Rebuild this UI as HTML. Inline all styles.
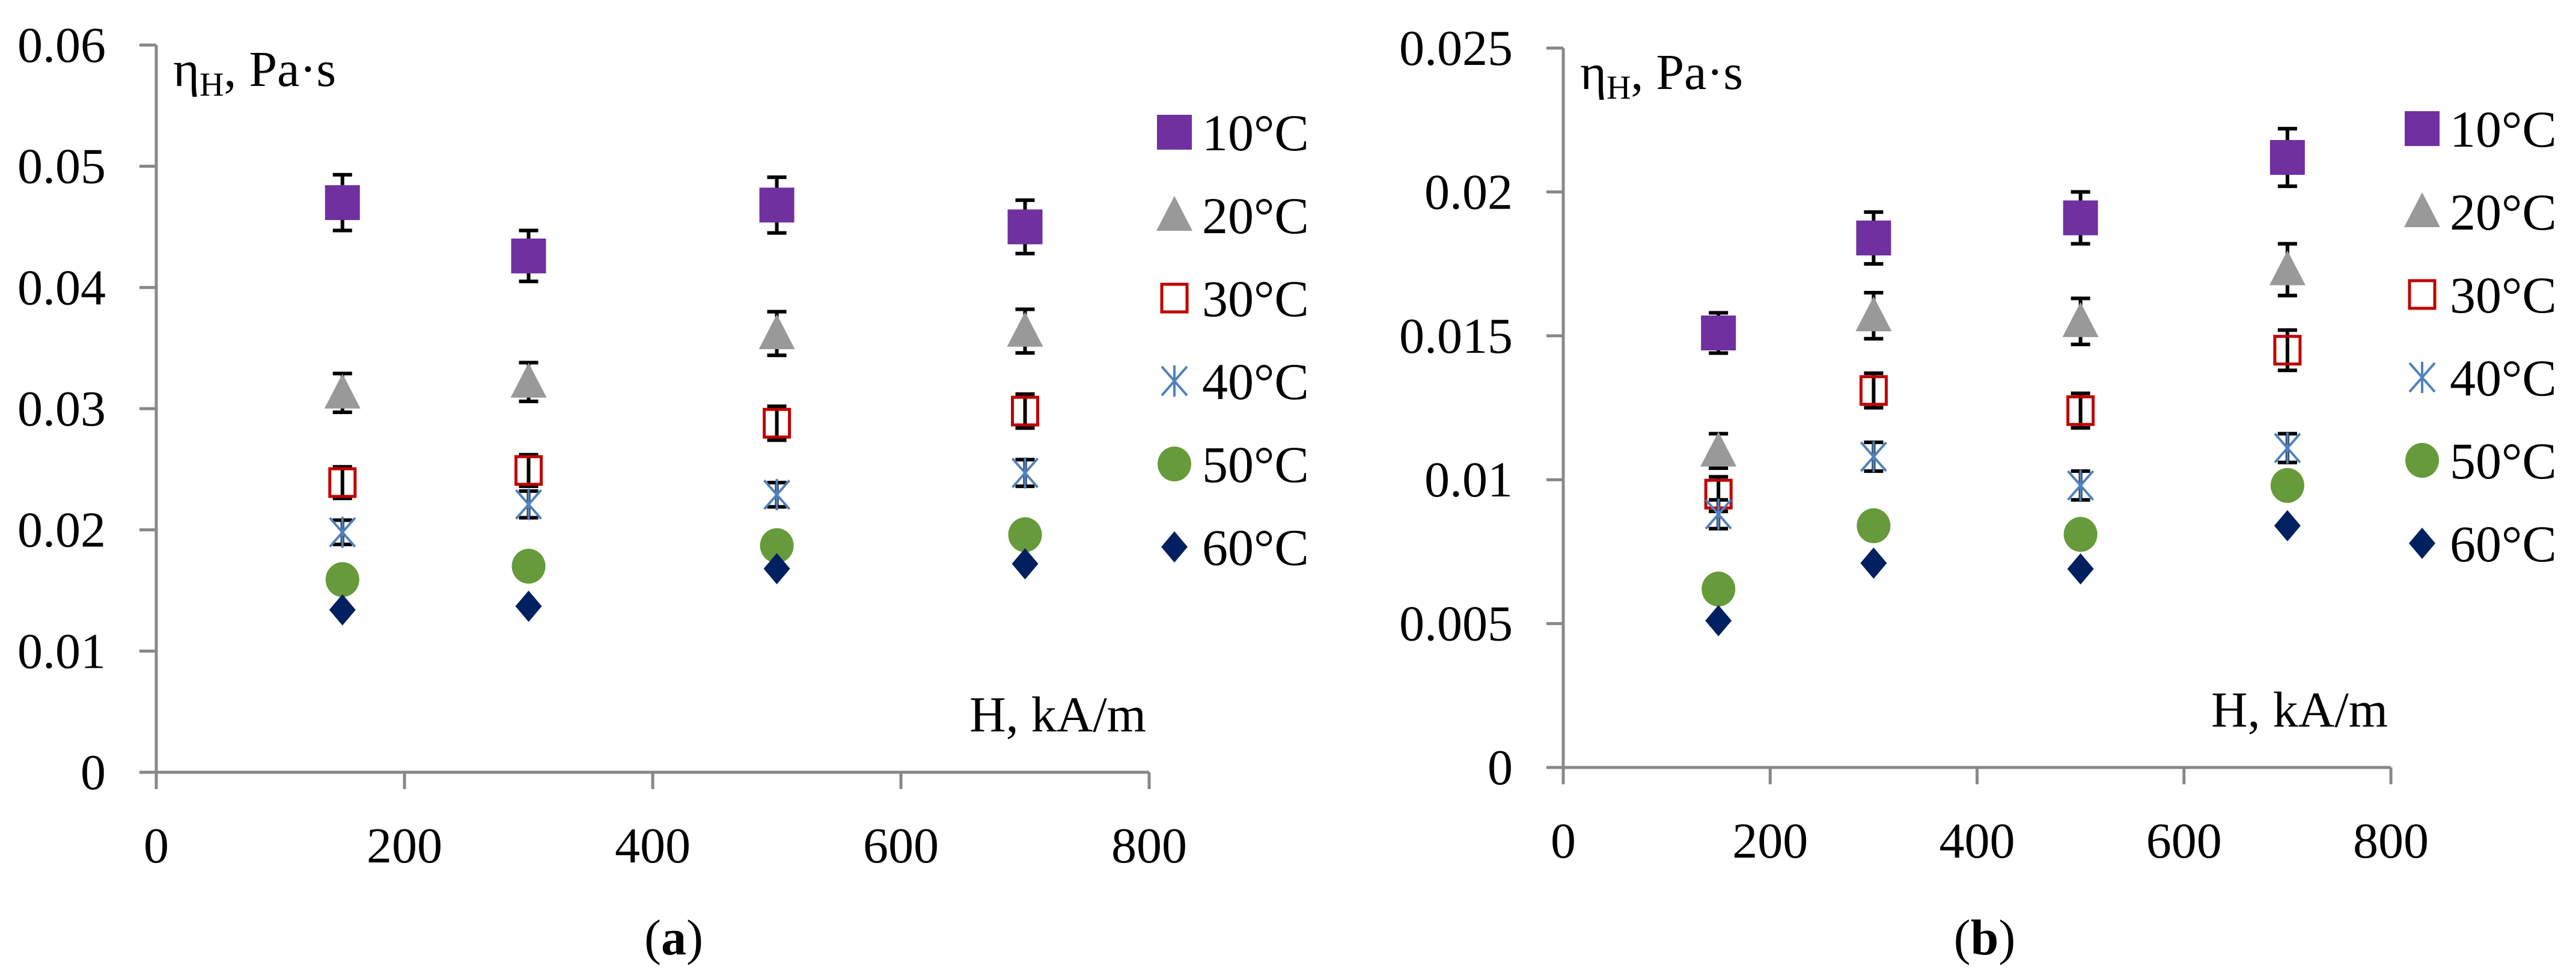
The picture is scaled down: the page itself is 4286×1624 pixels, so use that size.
<!DOCTYPE html>
<html><head><meta charset="utf-8"><style>
html,body{margin:0;padding:0;background:#fff;}
svg{display:block;}
text{font-family:"Liberation Serif",serif;fill:#000;}
</style></head><body>
<svg id="chart" width="4286" height="1624" viewBox="0 0 4286 1624" xmlns="http://www.w3.org/2000/svg"></svg>
<script>
const xValues = [150, 300, 500, 700];
const seriesLabels = ["10°C","20°C","30°C","40°C","50°C","60°C"];
const xTicks = [0, 200, 400, 600, 800];
const yTicksA = [0, 0.01, 0.02, 0.03, 0.04, 0.05, 0.06];
const yTickLabelsA = ["0","0.01","0.02","0.03","0.04","0.05","0.06"];
const yTicksB = [0, 0.005, 0.01, 0.015, 0.02, 0.025];
const yTickLabelsB = ["0","0.005","0.01","0.015","0.02","0.025"];
const a10 = [0.047, 0.0426, 0.0468, 0.045];
const a20 = [0.0313, 0.0322, 0.0362, 0.0364];
const a30 = [0.0239, 0.0249, 0.0288, 0.0298];
const a40 = [0.0198, 0.0221, 0.0229, 0.0247];
const a50 = [0.0159, 0.0170, 0.0187, 0.0196];
const a60 = [0.0134, 0.0137, 0.0168, 0.0172];
const aErr10 = [0.0023, 0.0021, 0.0023, 0.0022];
const aErr20 = [0.0016, 0.0016, 0.0018, 0.0018];
const aErr30 = [0.0013, 0.0013, 0.0014, 0.0014];
const aErr40 = [0.0010, 0.0011, 0.0010, 0.0011];
const b10 = [0.0151, 0.0184, 0.0191, 0.0212];
const b20 = [0.0110, 0.0157, 0.0155, 0.0173];
const b30 = [0.0095, 0.0131, 0.0124, 0.0145];
const b40 = [0.0088, 0.0108, 0.0098, 0.0111];
const b50 = [0.0062, 0.0084, 0.0081, 0.0098];
const b60 = [0.0051, 0.0071, 0.0069, 0.0084];
const bErr10 = [0.0007, 0.0009, 0.0009, 0.0010];
const bErr20 = [0.0006, 0.0008, 0.0008, 0.0009];
const bErr30 = [0.0006, 0.0006, 0.0006, 0.0007];
const bErr40 = [0.0005, 0.0005, 0.0005, 0.0005];

const NS = "http://www.w3.org/2000/svg";
const svg = document.getElementById("chart");
function mk(tag, attrs, parent){
  const e = document.createElementNS(NS, tag);
  for (const k in attrs) e.setAttribute(k, attrs[k]);
  (parent||svg).appendChild(e); return e;
}
const kinds = ["square","triangle","open","star","circle","diamond"];
const colors = ["#7030A0","#999999","#C00000","#4F81BD","#669A3A","#002060"];
function marker(g, kind, cx, cy, color){
  let el;
  if (kind==="square") el = mk("rect",{x:cx-29,y:cy-29,width:58,height:58,fill:color},g);
  else if (kind==="triangle") el = mk("polygon",{points:`${cx},${cy-32} ${cx+30},${cy+26} ${cx-30},${cy+26}`,fill:color},g);
  else if (kind==="open") el = mk("rect",{x:cx-21,y:cy-23,width:42,height:46,fill:"none",stroke:color,"stroke-width":5},g);
  else if (kind==="star") { el = mk("path",{d:`M${cx-21},${cy-24}L${cx+21},${cy+24}M${cx+21},${cy-24}L${cx-21},${cy+24}M${cx},${cy-26}L${cx},${cy+26}`,stroke:color,"stroke-width":4,fill:"none"},g); }
  else if (kind==="circle") el = mk("ellipse",{cx:cx,cy:cy,rx:28,ry:29,fill:color},g);
  else el = mk("polygon",{points:`${cx},${cy-26} ${cx+22},${cy} ${cx},${cy+26} ${cx-22},${cy}`,fill:color},g);
  return el;
}
function panel(cfg){
  const g = mk("g",{});
  
  
  const X = v => cfg.x0 + (v - 0) / 800 * (cfg.x1 - cfg.x0);
  const Y = v => cfg.y0 - v / cfg.ymax * (cfg.y0 - cfg.y1);
  const ax = mk("line",{x1:cfg.x0,y1:cfg.y0,x2:cfg.x1,y2:cfg.y0,stroke:"#888","stroke-width":5},g);
  
  
  const ay = mk("line",{x1:cfg.x0,y1:cfg.y0,x2:cfg.x0,y2:cfg.y1,stroke:"#888","stroke-width":5},g);
  
  
  xTicks.forEach(t=>{
    mk("line",{x1:X(t),y1:cfg.y0,x2:X(t),y2:cfg.y0+28,stroke:"#888","stroke-width":5},g);
    const tx = mk("text",{x:X(t),y:cfg.y0+150,"text-anchor":"middle","font-size":84},g);
    tx.textContent = t;
    
    
  });
  cfg.yTicks.forEach((t,i)=>{
    mk("line",{x1:cfg.x0-28,y1:Y(t),x2:cfg.x0,y2:Y(t),stroke:"#888","stroke-width":5},g);
    const tx = mk("text",{x:cfg.x0-84,y:Y(t)+28,"text-anchor":"end","font-size":84},g);
    tx.textContent = cfg.yLabels[i];
    
    
  });
  const yt = mk("text",{x:cfg.x0+28,y:cfg.y1+68,"font-size":84},g);
  yt.innerHTML = 'η<tspan font-size="56" dy="16">H</tspan><tspan dy="-16">, Pa·s</tspan>';
  
  
  const xt = mk("text",{x:cfg.x1-5,y:cfg.y0-68,"text-anchor":"end","font-size":84},g);
  xt.textContent = "H, kA/m";
  
  
  const cap = mk("text",{x:cfg.capX,y:1588,"text-anchor":"middle","font-size":84},g);
  cap.innerHTML = '(<tspan font-weight="bold">'+cfg.cap+'</tspan>)';
  
  
  cfg.series.forEach((vals,si)=>{
    const errs = cfg.errs[si];
    if (!errs) return;
    vals.forEach((v,i)=>{
      const cx = X(xValues[i]);
      const eb = mk("path",{d:`M${cx},${Y(v+errs[i])}L${cx},${Y(v-errs[i])}M${cx-16},${Y(v+errs[i])}L${cx+16},${Y(v+errs[i])}M${cx-16},${Y(v-errs[i])}L${cx+16},${Y(v-errs[i])}`,stroke:"#000","stroke-width":6,fill:"none"},g);
      
      
    });
  });
  cfg.series.forEach((vals,si)=>{
    vals.forEach((v,i)=>{
      const m = marker(g, kinds[si], X(xValues[i]), Y(v), colors[si]);
      
      
    });
  });
  seriesLabels.forEach((lab,si)=>{
    const ly = cfg.legY + si*138;
    const lm = marker(g, kinds[si], cfg.legX, ly, colors[si]);
    
    
    const lt = mk("text",{x:cfg.legX+46,y:ly+30,"font-size":86},g);
    lt.textContent = lab;
    
    
  });
}
panel({name:"panel-a",x0:260,x1:1912,y0:1285,y1:75,ymax:0.06,yTicks:yTicksA,yLabels:yTickLabelsA,
  series:[a10,a20,a30,a40,a50,a60],errs:[aErr10,aErr20,aErr30,aErr40,null,null],
  legX:1954,legY:220,capX:1121,cap:"a"});
panel({name:"panel-b",x0:2601,x1:3978,y0:1277,y1:80,ymax:0.025,yTicks:yTicksB,yLabels:yTickLabelsB,
  series:[b10,b20,b30,b40,b50,b60],errs:[bErr10,bErr20,bErr30,bErr40,null,null],
  legX:4030,legY:214,capX:3302,cap:"b"});
</script>
</body></html>
